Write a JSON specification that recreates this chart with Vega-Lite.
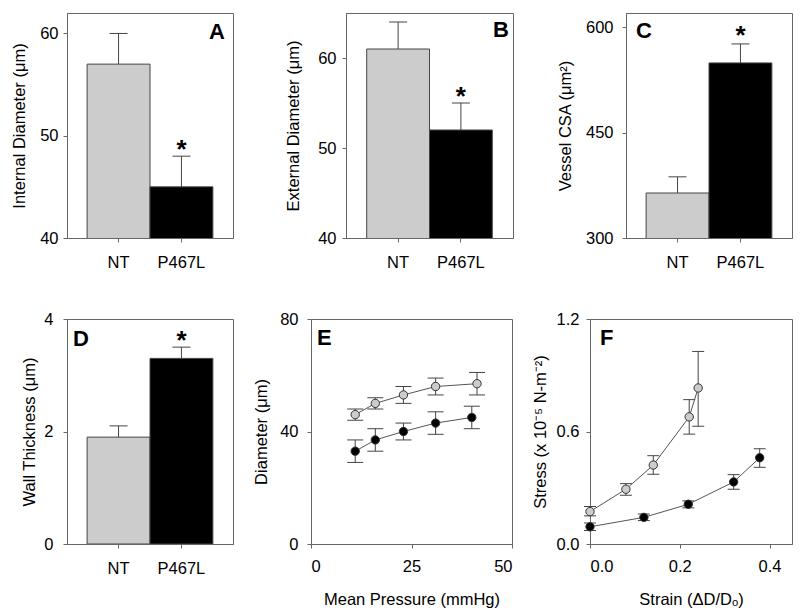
{
  "$schema": "https://vega.github.io/schema/vega-lite/v6.json",
  "padding": {"left": 11, "top": 12, "right": 0, "bottom": 0},
  "config": {
    "font": "Liberation Sans",
    "view": {"stroke": "#666", "strokeWidth": 1},
    "axis": {"domainColor": "#666", "tickColor": "#666", "tickSize": 4, "labelFontSize": 16.5, "titleFontSize": 16.5, "labelColor": "#000", "titleColor": "#000", "titleFontWeight": "normal", "grid": false, "labelFont": "Liberation Sans", "titleFont": "Liberation Sans"},
    "title": {"fontSize": 22, "fontWeight": "bold", "color": "#000", "baseline": "top", "frame": "group", "font": "Liberation Sans"}
  },
  "spacing": 39,
  "align": "none",
  "vconcat": [
    {
      "spacing": 113,
      "bounds": "flush",
      "align": "none",
      "hconcat": [
        {
          "width": 166, "height": 225,
          "title": {"text": "A", "anchor": "end", "offset": -31, "dx": -8},
          "data": {"values": [{"group": "NT", "value": 57, "upper": 60, "sig": ""}, {"group": "P467L", "value": 45, "upper": 48, "sig": "*"}]},
          "encoding": {"x": {"field": "group", "type": "nominal", "sort": null, "scale": {"paddingInner": 0, "paddingOuter": 0.32}, "axis": {"title": null, "labelAngle": 0, "labelPadding": 12}}},
          "layer": [
            {"mark": {"type": "bar", "stroke": "#444", "strokeWidth": 1, "clip": true},
             "encoding": {"y": {"field": "value", "type": "quantitative", "scale": {"domain": [40, 62], "nice": false, "zero": false}, "axis": {"values": [40, 50, 60], "title": "Internal Diameter (μm)", "labelPadding": 5, "titlePadding": 12}},
                          "fill": {"field": "group", "type": "nominal", "scale": {"domain": ["NT", "P467L"], "range": ["#cccccc", "#000000"]}, "legend": null}}},
            {"mark": {"type": "rule", "color": "#444", "strokeWidth": 1}, "encoding": {"y": {"field": "value", "type": "quantitative"}, "y2": {"field": "upper"}}},
            {"mark": {"type": "tick", "orient": "horizontal", "size": 18, "thickness": 1, "color": "#444", "opacity": 1}, "encoding": {"y": {"field": "upper", "type": "quantitative"}}},
            {"transform": [{"filter": "datum.sig != ''"}], "mark": {"type": "text", "fontSize": 26, "fontWeight": "bold", "baseline": "alphabetic", "dy": 2, "color": "#000"}, "encoding": {"y": {"field": "upper", "type": "quantitative"}, "text": {"field": "sig"}}}
          ]
        },
        {
          "width": 167, "height": 225,
          "title": {"text": "B", "anchor": "end", "offset": -29, "dx": -4},
          "data": {"values": [{"group": "NT", "value": 61, "upper": 64, "sig": ""}, {"group": "P467L", "value": 52, "upper": 55, "sig": "*"}]},
          "encoding": {"x": {"field": "group", "type": "nominal", "sort": null, "scale": {"paddingInner": 0, "paddingOuter": 0.33}, "axis": {"title": null, "labelAngle": 0, "labelPadding": 12}}},
          "layer": [
            {"mark": {"type": "bar", "stroke": "#444", "strokeWidth": 1, "clip": true},
             "encoding": {"y": {"field": "value", "type": "quantitative", "scale": {"domain": [40, 65], "nice": false, "zero": false}, "axis": {"values": [40, 50, 60], "title": "External Diameter (μm)", "labelPadding": 6, "titlePadding": 16}},
                          "fill": {"field": "group", "type": "nominal", "scale": {"domain": ["NT", "P467L"], "range": ["#cccccc", "#000000"]}, "legend": null}}},
            {"mark": {"type": "rule", "color": "#444", "strokeWidth": 1}, "encoding": {"y": {"field": "value", "type": "quantitative"}, "y2": {"field": "upper"}}},
            {"mark": {"type": "tick", "orient": "horizontal", "size": 18, "thickness": 1, "color": "#444", "opacity": 1}, "encoding": {"y": {"field": "upper", "type": "quantitative"}}},
            {"transform": [{"filter": "datum.sig != ''"}], "mark": {"type": "text", "fontSize": 26, "fontWeight": "bold", "baseline": "alphabetic", "dy": 2, "color": "#000"}, "encoding": {"y": {"field": "upper", "type": "quantitative"}, "text": {"field": "sig"}}}
          ]
        },
        {
          "width": 166, "height": 225,
          "title": {"text": "C", "anchor": "start", "offset": -30, "dx": 10},
          "data": {"values": [{"group": "NT", "value": 364, "upper": 387, "sig": ""}, {"group": "P467L", "value": 549, "upper": 576, "sig": "*"}]},
          "encoding": {"x": {"field": "group", "type": "nominal", "sort": null, "scale": {"paddingInner": 0, "paddingOuter": 0.32}, "axis": {"title": null, "labelAngle": 0, "labelPadding": 12}}},
          "layer": [
            {"mark": {"type": "bar", "stroke": "#444", "strokeWidth": 1, "clip": true},
             "encoding": {"y": {"field": "value", "type": "quantitative", "scale": {"domain": [300, 620], "nice": false, "zero": false}, "axis": {"values": [300, 450, 600], "title": "Vessel CSA (μm²)", "labelPadding": 9, "titlePadding": 12}},
                          "fill": {"field": "group", "type": "nominal", "scale": {"domain": ["NT", "P467L"], "range": ["#cccccc", "#000000"]}, "legend": null}}},
            {"mark": {"type": "rule", "color": "#444", "strokeWidth": 1}, "encoding": {"y": {"field": "value", "type": "quantitative"}, "y2": {"field": "upper"}}},
            {"mark": {"type": "tick", "orient": "horizontal", "size": 18, "thickness": 1, "color": "#444", "opacity": 1}, "encoding": {"y": {"field": "upper", "type": "quantitative"}}},
            {"transform": [{"filter": "datum.sig != ''"}], "mark": {"type": "text", "fontSize": 26, "fontWeight": "bold", "baseline": "alphabetic", "dy": 0, "color": "#000"}, "encoding": {"y": {"field": "upper", "type": "quantitative"}, "text": {"field": "sig"}}}
          ]
        }
      ]
    },
    {
      "spacing": 78,
      "bounds": "flush",
      "align": "none",
      "hconcat": [
        {
          "width": 166, "height": 225,
          "title": {"text": "D", "anchor": "start", "offset": -40, "dx": 6},
          "data": {"values": [{"group": "NT", "value": 1.9, "upper": 2.1, "sig": ""}, {"group": "P467L", "value": 3.3, "upper": 3.5, "sig": "*"}]},
          "encoding": {"x": {"field": "group", "type": "nominal", "sort": null, "scale": {"paddingInner": 0, "paddingOuter": 0.32}, "axis": {"title": null, "labelAngle": 0, "labelPadding": 12}}},
          "layer": [
            {"mark": {"type": "bar", "stroke": "#444", "strokeWidth": 1, "clip": true},
             "encoding": {"y": {"field": "value", "type": "quantitative", "scale": {"domain": [0, 4], "nice": false}, "axis": {"values": [0, 2, 4], "format": "d", "title": "Wall Thickness (μm)", "labelPadding": 10, "titlePadding": 6}},
                          "fill": {"field": "group", "type": "nominal", "scale": {"domain": ["NT", "P467L"], "range": ["#cccccc", "#000000"]}, "legend": null}}},
            {"mark": {"type": "rule", "color": "#444", "strokeWidth": 1}, "encoding": {"y": {"field": "value", "type": "quantitative"}, "y2": {"field": "upper"}}},
            {"mark": {"type": "tick", "orient": "horizontal", "size": 18, "thickness": 1, "color": "#444", "opacity": 1}, "encoding": {"y": {"field": "upper", "type": "quantitative"}}},
            {"transform": [{"filter": "datum.sig != ''"}], "mark": {"type": "text", "fontSize": 26, "fontWeight": "bold", "baseline": "alphabetic", "dy": 2, "color": "#000"}, "encoding": {"y": {"field": "upper", "type": "quantitative"}, "text": {"field": "sig"}}}
          ]
        },
        {
          "width": 201, "height": 225,
          "title": {"text": "E", "anchor": "start", "offset": -39, "dx": 6},
          "data": {"values": [
            {"group": "NT", "pressure": 11, "diameter": 46, "lo": 44, "hi": 48},
            {"group": "NT", "pressure": 16, "diameter": 50, "lo": 48, "hi": 52},
            {"group": "NT", "pressure": 23, "diameter": 53, "lo": 50, "hi": 56},
            {"group": "NT", "pressure": 31, "diameter": 56, "lo": 53, "hi": 59},
            {"group": "NT", "pressure": 41.3, "diameter": 57, "lo": 53, "hi": 61},
            {"group": "P467L", "pressure": 11, "diameter": 33, "lo": 29, "hi": 37},
            {"group": "P467L", "pressure": 16, "diameter": 37, "lo": 33, "hi": 41},
            {"group": "P467L", "pressure": 23, "diameter": 40, "lo": 37, "hi": 43},
            {"group": "P467L", "pressure": 31, "diameter": 43, "lo": 39, "hi": 47},
            {"group": "P467L", "pressure": 40, "diameter": 45, "lo": 41, "hi": 49}
          ]},
          "encoding": {"x": {"field": "pressure", "type": "quantitative", "scale": {"domain": [0, 50], "nice": false}, "axis": {"values": [0, 25, 50], "title": "Mean Pressure (mmHg)", "labelPadding": 10, "titlePadding": 17}}},
          "layer": [
            {"mark": {"type": "rule", "color": "#444", "strokeWidth": 1}, "encoding": {"y": {"field": "lo", "type": "quantitative", "scale": {"domain": [0, 80], "nice": false}, "axis": {"values": [0, 40, 80], "title": "Diameter (μm)", "labelPadding": 9, "titlePadding": 10}}, "y2": {"field": "hi"}}},
            {"mark": {"type": "tick", "orient": "horizontal", "size": 16, "thickness": 1, "color": "#444", "opacity": 1}, "encoding": {"y": {"field": "lo", "type": "quantitative"}}},
            {"mark": {"type": "tick", "orient": "horizontal", "size": 16, "thickness": 1, "color": "#444", "opacity": 1}, "encoding": {"y": {"field": "hi", "type": "quantitative"}}},
            {"mark": {"type": "line", "color": "#555", "strokeWidth": 1}, "encoding": {"y": {"field": "diameter", "type": "quantitative"}, "detail": {"field": "group"}}},
            {"mark": {"type": "circle", "size": 70, "stroke": "#333", "strokeWidth": 1, "opacity": 1}, "encoding": {"y": {"field": "diameter", "type": "quantitative"}, "fill": {"field": "group", "type": "nominal", "scale": {"domain": ["NT", "P467L"], "range": ["#c8c8c8", "#000000"]}, "legend": null}}}
          ]
        },
        {
          "width": 202, "height": 225,
          "title": {"text": "F", "anchor": "start", "offset": -39, "dx": 10},
          "data": {"values": [
            {"group": "NT", "strain": 0.0, "stress": 0.173, "lo": 0.15, "hi": 0.2},
            {"group": "NT", "strain": 0.08, "stress": 0.292, "lo": 0.26, "hi": 0.322},
            {"group": "NT", "strain": 0.141, "stress": 0.421, "lo": 0.372, "hi": 0.471},
            {"group": "NT", "strain": 0.221, "stress": 0.678, "lo": 0.586, "hi": 0.77},
            {"group": "NT", "strain": 0.241, "stress": 0.832, "lo": 0.628, "hi": 1.027},
            {"group": "P467L", "strain": 0.0, "stress": 0.092, "lo": 0.072, "hi": 0.112},
            {"group": "P467L", "strain": 0.12, "stress": 0.142, "lo": 0.125, "hi": 0.16},
            {"group": "P467L", "strain": 0.219, "stress": 0.212, "lo": 0.193, "hi": 0.23},
            {"group": "P467L", "strain": 0.32, "stress": 0.331, "lo": 0.292, "hi": 0.37},
            {"group": "P467L", "strain": 0.378, "stress": 0.46, "lo": 0.409, "hi": 0.508}
          ]},
          "encoding": {"x": {"field": "strain", "type": "quantitative", "scale": {"domain": [0, 0.45], "nice": false}, "axis": {"values": [0, 0.2, 0.4], "format": ".1f", "title": "Strain (ΔD/Dₒ)", "labelPadding": 10, "titlePadding": 17}}},
          "layer": [
            {"mark": {"type": "rule", "color": "#444", "strokeWidth": 1}, "encoding": {"y": {"field": "lo", "type": "quantitative", "scale": {"domain": [0, 1.2], "nice": false}, "axis": {"values": [0, 0.6, 1.2], "format": ".1f", "title": "Stress (x 10⁻⁵ N-m⁻²)", "labelPadding": 7, "titlePadding": 8}}, "y2": {"field": "hi"}}},
            {"mark": {"type": "tick", "orient": "horizontal", "size": 12, "thickness": 1, "color": "#444", "opacity": 1}, "encoding": {"y": {"field": "lo", "type": "quantitative"}}},
            {"mark": {"type": "tick", "orient": "horizontal", "size": 12, "thickness": 1, "color": "#444", "opacity": 1}, "encoding": {"y": {"field": "hi", "type": "quantitative"}}},
            {"mark": {"type": "line", "color": "#555", "strokeWidth": 1}, "encoding": {"y": {"field": "stress", "type": "quantitative"}, "detail": {"field": "group"}}},
            {"mark": {"type": "circle", "size": 70, "stroke": "#333", "strokeWidth": 1, "opacity": 1}, "encoding": {"y": {"field": "stress", "type": "quantitative"}, "fill": {"field": "group", "type": "nominal", "scale": {"domain": ["NT", "P467L"], "range": ["#c8c8c8", "#000000"]}, "legend": null}}}
          ]
        }
      ]
    }
  ]
}
